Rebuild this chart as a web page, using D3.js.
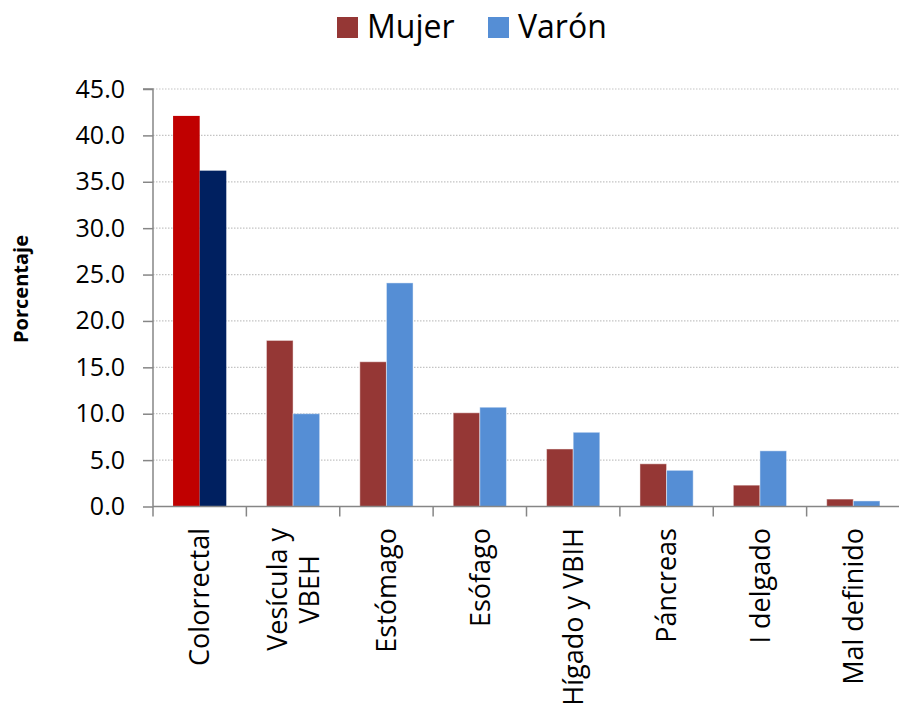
<!DOCTYPE html>
<html>
<head>
<meta charset="utf-8">
<script src="https://cdn.jsdelivr.net/npm/d3@7/dist/d3.min.js"></script>
<style>
  html, body { margin: 0; padding: 0; background: #fff; }
  svg { display: block; }
  text { font-family: "Open Sans", "DejaVu Sans", sans-serif; fill: #000; }
</style>
</head>
<body>
<svg id="chart" width="899" height="708"></svg>
<script>
// ---- data ----
const categories = ["Colorrectal", "Vesícula y\nVBEH", "Estómago", "Esófago", "Hígado y VBIH", "Páncreas", "I delgado", "Mal definido"];
const seriesNames = ["Mujer", "Varón"];
const mujer = [42.1, 17.9, 15.6, 10.1, 6.2, 4.6, 2.3, 0.8];
const varon = [36.2, 10.0, 24.1, 10.7, 8.0, 3.9, 6.0, 0.6];
const yTicks = [0, 5, 10, 15, 20, 25, 30, 35, 40, 45];
const yLabel = "Porcentaje";

// ---- styles ----
const seriesColors = ["#953735", "#558ED5"];
const highlightCategory = "Colorrectal";
const highlightColors = ["#C00000", "#002060"];

(function () {
const svg = d3.select("#chart");
const pLeft = 153, pRight = 900, pTop = 89, pBottom = 506.5;

const x0 = d3.scaleBand().domain(categories).range([pLeft, pRight])
  .paddingInner(0.43).paddingOuter(0.215);
const x1 = d3.scaleBand().domain(seriesNames).range([0, x0.bandwidth()]);
const y = d3.scaleLinear().domain([0, 45]).range([pBottom, pTop]);
const step = x0.step();

// gridlines
svg.append("g").selectAll("line").data(yTicks.filter(d => d > 0)).join("line")
  .attr("x1", pLeft).attr("x2", 899)
  .attr("y1", d => y(d)).attr("y2", d => y(d))
  .attr("stroke", "#C4C4C4").attr("stroke-width", 1.2)
  .attr("stroke-dasharray", "1.5,1.5");

// bars
const rows = categories.map((c, i) => ({ cat: c, vals: [mujer[i], varon[i]] }));
const gBars = svg.append("g");
rows.forEach(r => {
  seriesNames.forEach((s, j) => {
    const col = r.cat === highlightCategory ? highlightColors[j] : seriesColors[j];
    gBars.append("rect")
      .attr("x", x0(r.cat) + x1(s))
      .attr("y", y(r.vals[j]))
      .attr("width", x1.bandwidth())
      .attr("height", pBottom - y(r.vals[j]))
      .attr("fill", col)
      .attr("stroke", r.cat === highlightCategory ? "none" : "#ffffff")
      .attr("stroke-opacity", 0.45)
      .attr("stroke-width", 1);
  });
});

// y axis
const yAxis = d3.axisLeft(y).tickValues(yTicks).tickFormat(d3.format(".1f"))
  .tickSize(10).tickPadding(18);
const gy = svg.append("g").attr("transform", `translate(${pLeft},0)`).call(yAxis);
gy.select(".domain").attr("stroke", "#868686").attr("stroke-width", 1.5)
  .attr("d", `M-10,${pTop}H0V${pBottom}`);
gy.selectAll(".tick line").attr("stroke", "#868686").attr("stroke-width", 1.5);
gy.selectAll(".tick text").attr("font-size", 25)
  .attr("font-family", "'Open Sans', sans-serif").attr("fill", "#000");

// x axis line and ticks at band boundaries
svg.append("line").attr("x1", pLeft).attr("x2", 899).attr("y1", pBottom).attr("y2", pBottom)
  .attr("stroke", "#868686").attr("stroke-width", 1.5);
const bounds = d3.range(categories.length + 1).map(i => pLeft + i * step);
svg.append("g").selectAll("line").data(bounds).join("line")
  .attr("x1", d => d).attr("x2", d => d).attr("y1", pBottom).attr("y2", pBottom + 10)
  .attr("stroke", "#868686").attr("stroke-width", 1.5);

// x labels (rotated)
const fs = 27, lh = 32, labTop = 528;
categories.forEach(c => {
  const lines = c.split("\n");
  const cx = x0(c) + x0.bandwidth() / 2;
  const g = svg.append("g").attr("transform", `translate(${cx},${labTop}) rotate(-90)`);
  const t = g.append("text").attr("font-size", fs);
  lines.forEach((ln, i) => {
    t.append("tspan").attr("x", 0)
      .attr("y", (i - (lines.length - 1) / 2) * lh + fs * 0.36)
      .text(ln);
  });
  if (lines.length === 1) {
    t.attr("text-anchor", "end");
  } else {
    let maxLen = 0;
    t.selectAll("tspan").each(function () { maxLen = Math.max(maxLen, this.getComputedTextLength()); });
    t.attr("text-anchor", "middle");
    t.selectAll("tspan").attr("x", -maxLen / 2);
  }
});

// y axis title
svg.append("text")
  .attr("transform", "translate(28,289) rotate(-90)")
  .attr("text-anchor", "middle")
  .attr("font-size", 20).attr("font-weight", "bold")
  .text(yLabel);

// legend
const legendX = [337, 488];
seriesNames.forEach((s, i) => {
  svg.append("rect").attr("x", legendX[i]).attr("y", 17).attr("width", 21).attr("height", 21)
    .attr("fill", seriesColors[i]);
  svg.append("text").attr("x", legendX[i] + 30).attr("y", 37.5)
    .attr("font-size", 32).text(s);
});
})();
</script>
</body>
</html>
